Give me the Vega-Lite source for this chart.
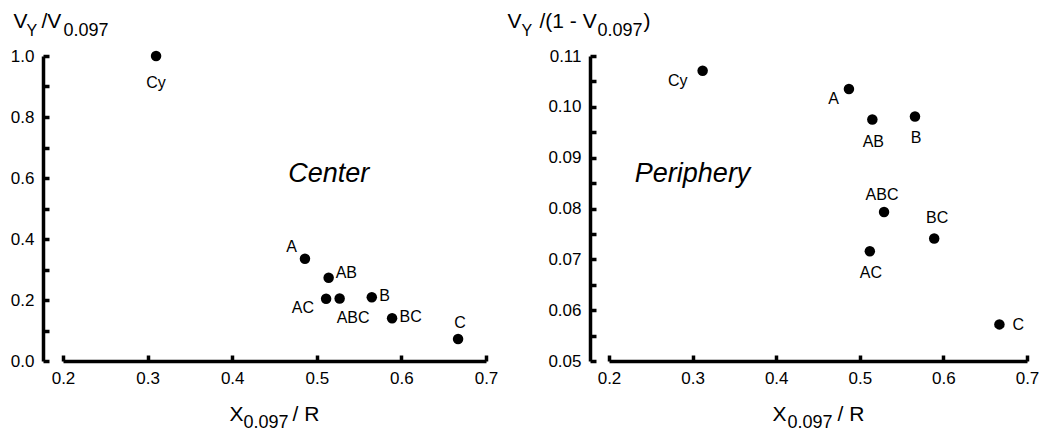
{
  "$schema": "https://vega.github.io/schema/vega-lite/v6.json",
  "padding": {"left": 10, "top": 10, "right": 5, "bottom": 0},
  "bounds": "flush",
  "spacing": 123,
  "datasets": {
    "center": [
      {"label": "Cy", "x": 0.310, "y": 1.000},
      {"label": "A", "x": 0.486, "y": 0.335},
      {"label": "AB", "x": 0.514, "y": 0.273},
      {"label": "AC", "x": 0.511, "y": 0.204},
      {"label": "ABC", "x": 0.527, "y": 0.205},
      {"label": "B", "x": 0.565, "y": 0.209},
      {"label": "BC", "x": 0.589, "y": 0.140},
      {"label": "C", "x": 0.667, "y": 0.072}
    ],
    "periphery": [
      {"label": "Cy", "x": 0.312, "y": 0.1071},
      {"label": "A", "x": 0.487, "y": 0.1035},
      {"label": "AB", "x": 0.515, "y": 0.0975},
      {"label": "B", "x": 0.566, "y": 0.0981},
      {"label": "ABC", "x": 0.529, "y": 0.0793},
      {"label": "BC", "x": 0.589, "y": 0.0741},
      {"label": "AC", "x": 0.512, "y": 0.0716},
      {"label": "C", "x": 0.667, "y": 0.0572}
    ],
    "notes": [
      {"panel": "center", "x": 0.514, "y": 0.587, "text": "Center"},
      {"panel": "periphery", "x": 0.300, "y": 0.0853, "text": "Periphery"}
    ]
  },
  "config": {
    "font": "Liberation Sans",
    "view": {"stroke": null},
    "axis": {"grid": false, "domainColor": "black", "domainWidth": 3.5, "tickColor": "black", "tickWidth": 3.5, "labelColor": "black", "titleColor": "black", "labelFontSize": 17, "titleFontWeight": "normal", "labelFlush": false, "labelOverlap": false, "labelFont": "Liberation Sans", "titleFont": "Liberation Sans"},
    "text": {"fontSize": 16, "color": "black", "font": "Liberation Sans"}
  },
  "hconcat": [
    {
      "width": 423,
      "height": 305,
      "data": {"name": "center"},
      "resolve": {"axis": {"x": "independent", "y": "independent"}},
      "layer": [
        {
          "mark": {"type": "point", "filled": true, "size": 110, "color": "black", "opacity": 1},
          "encoding": {
            "x": {"field": "x", "type": "quantitative", "scale": {"domain": [0.2, 0.7], "nice": false, "zero": false},
              "axis": {"orient": "bottom", "values": [0.2, 0.3, 0.4, 0.5, 0.6, 0.7], "format": ".1f", "ticks": false, "labelPadding": 9, "domainWidth": 3.5, "title": "X", "titleX": 166, "titleY": 59, "titleFontSize": 21, "titleAngle": 0, "titleAlign": "left", "titleBaseline": "alphabetic"}},
            "y": {"field": "y", "type": "quantitative", "scale": {"domain": [0, 1], "nice": false, "zero": false},
              "axis": {"orient": "left", "offset": 20, "values": [0, 0.2, 0.4, 0.6, 0.8, 1], "format": ".1f", "ticks": false, "labelPadding": 9, "domainWidth": 3.5, "title": "V", "titleX": -30, "titleY": -29, "titleFontSize": 21, "titleAngle": 0, "titleAlign": "left", "titleBaseline": "alphabetic"}}
          }
        },
        {
          "transform": [{"filter": "datum.label == 'Cy'"}],
          "mark": {"type": "text", "align": "center", "baseline": "top", "dy": 19},
          "encoding": {
            "x": {"field": "x", "type": "quantitative",
              "axis": {"orient": "bottom", "offset": -6, "domain": false, "labels": false, "ticks": true, "tickSize": 6, "tickWidth": 3.5, "values": [0.2, 0.3, 0.4, 0.5, 0.6, 0.7], "title": null}},
            "y": {"field": "y", "type": "quantitative",
              "axis": {"orient": "left", "offset": 14, "domain": false, "labels": false, "ticks": true, "tickSize": 6, "tickWidth": 3.5, "values": [0, 0.1, 0.2, 0.3, 0.4, 0.5, 0.6, 0.7, 0.8, 0.9, 1], "title": null}},
            "text": {"field": "label"}
          }
        },
        {
          "transform": [{"filter": "datum.label == 'A'"}],
          "mark": {"type": "text", "align": "right", "baseline": "alphabetic", "dx": -8, "dy": -7},
          "encoding": {
            "x": {"field": "x", "type": "quantitative",
              "axis": {"orient": "bottom", "domain": false, "labels": false, "ticks": false, "title": "0.097", "titleX": 180, "titleY": 66, "titleFontSize": 18, "titleAngle": 0, "titleAlign": "left", "titleBaseline": "alphabetic"}},
            "y": {"field": "y", "type": "quantitative",
              "axis": {"orient": "left", "offset": 20, "domain": false, "labels": false, "ticks": false, "title": "Y", "titleX": -17, "titleY": -21, "titleFontSize": 16, "titleAngle": 0, "titleAlign": "left", "titleBaseline": "alphabetic"}},
            "text": {"field": "label"}
          }
        },
        {
          "transform": [{"filter": "datum.label == 'AB'"}],
          "mark": {"type": "text", "align": "left", "baseline": "alphabetic", "dx": 7, "dy": 0},
          "encoding": {
            "x": {"field": "x", "type": "quantitative",
              "axis": {"orient": "bottom", "domain": false, "labels": false, "ticks": false, "title": "/ R", "titleX": 229, "titleY": 59, "titleFontSize": 21, "titleAngle": 0, "titleAlign": "left", "titleBaseline": "alphabetic"}},
            "y": {"field": "y", "type": "quantitative",
              "axis": {"orient": "left", "offset": 20, "domain": false, "labels": false, "ticks": false, "title": "/V", "titleX": -2, "titleY": -29, "titleFontSize": 21, "titleAngle": 0, "titleAlign": "left", "titleBaseline": "alphabetic"}},
            "text": {"field": "label"}
          }
        },
        {
          "transform": [{"filter": "datum.label == 'B' || datum.label == 'BC'"}],
          "mark": {"type": "text", "align": "left", "baseline": "alphabetic", "dx": 7.5, "dy": 4},
          "encoding": {
            "x": {"field": "x", "type": "quantitative", "axis": null},
            "y": {"field": "y", "type": "quantitative",
              "axis": {"orient": "left", "offset": 20, "domain": false, "labels": false, "ticks": false, "title": "0.097", "titleX": 20, "titleY": -21, "titleFontSize": 18, "titleAngle": 0, "titleAlign": "left", "titleBaseline": "alphabetic"}},
            "text": {"field": "label"}
          }
        },
        {
          "transform": [{"filter": "datum.label == 'AC'"}],
          "mark": {"type": "text", "align": "right", "baseline": "top", "dx": -12, "dy": 1},
          "encoding": {
            "x": {"field": "x", "type": "quantitative", "axis": null},
            "y": {"field": "y", "type": "quantitative", "axis": null},
            "text": {"field": "label"}
          }
        },
        {
          "transform": [{"filter": "datum.label == 'ABC'"}],
          "mark": {"type": "text", "align": "left", "baseline": "top", "dx": -3, "dy": 12},
          "encoding": {
            "x": {"field": "x", "type": "quantitative", "axis": null},
            "y": {"field": "y", "type": "quantitative", "axis": null},
            "text": {"field": "label"}
          }
        },
        {
          "transform": [{"filter": "datum.label == 'C'"}],
          "mark": {"type": "text", "align": "center", "baseline": "alphabetic", "dx": 2, "dy": -11},
          "encoding": {
            "x": {"field": "x", "type": "quantitative", "axis": null},
            "y": {"field": "y", "type": "quantitative", "axis": null},
            "text": {"field": "label"}
          }
        },
        {
          "data": {"name": "notes"},
          "transform": [{"filter": "datum.panel == 'center'"}],
          "mark": {"type": "text", "align": "center", "baseline": "alphabetic", "fontSize": 27, "fontStyle": "italic"},
          "encoding": {
            "x": {"field": "x", "type": "quantitative", "axis": null},
            "y": {"field": "y", "type": "quantitative", "axis": null},
            "text": {"field": "text"}
          }
        }
      ]
    },
    {
      "width": 418,
      "height": 305,
      "data": {"name": "periphery"},
      "resolve": {"axis": {"x": "independent", "y": "independent"}},
      "layer": [
        {
          "mark": {"type": "point", "filled": true, "size": 110, "color": "black", "opacity": 1},
          "encoding": {
            "x": {"field": "x", "type": "quantitative", "scale": {"domain": [0.2, 0.7], "nice": false, "zero": false},
              "axis": {"orient": "bottom", "values": [0.2, 0.3, 0.4, 0.5, 0.6, 0.7], "format": ".1f", "ticks": false, "labelPadding": 9, "domainWidth": 3.5, "title": "X", "titleX": 163, "titleY": 59, "titleFontSize": 21, "titleAngle": 0, "titleAlign": "left", "titleBaseline": "alphabetic"}},
            "y": {"field": "y", "type": "quantitative", "scale": {"domain": [0.05, 0.11], "nice": false, "zero": false},
              "axis": {"orient": "left", "offset": 19, "values": [0.05, 0.06, 0.07, 0.08, 0.09, 0.1, 0.11], "format": ".2f", "ticks": false, "labelPadding": 9, "domainWidth": 3.5, "title": "V", "titleX": -83, "titleY": -29, "titleFontSize": 21, "titleAngle": 0, "titleAlign": "left", "titleBaseline": "alphabetic"}}
          }
        },
        {
          "transform": [{"filter": "datum.label == 'Cy'"}],
          "mark": {"type": "text", "align": "right", "baseline": "top", "dx": -15, "dy": 2},
          "encoding": {
            "x": {"field": "x", "type": "quantitative",
              "axis": {"orient": "bottom", "offset": -6, "domain": false, "labels": false, "ticks": true, "tickSize": 6, "tickWidth": 3.5, "values": [0.2, 0.3, 0.4, 0.5, 0.6, 0.7], "title": null}},
            "y": {"field": "y", "type": "quantitative",
              "axis": {"orient": "left", "offset": 13, "domain": false, "labels": false, "ticks": true, "tickSize": 6, "tickWidth": 3.5, "values": [0.05, 0.055, 0.06, 0.065, 0.07, 0.075, 0.08, 0.085, 0.09, 0.095, 0.1, 0.105, 0.11], "title": null}},
            "text": {"field": "label"}
          }
        },
        {
          "transform": [{"filter": "datum.label == 'A'"}],
          "mark": {"type": "text", "align": "right", "baseline": "top", "dx": -10, "dy": 2},
          "encoding": {
            "x": {"field": "x", "type": "quantitative",
              "axis": {"orient": "bottom", "domain": false, "labels": false, "ticks": false, "title": "0.097", "titleX": 178, "titleY": 66, "titleFontSize": 18, "titleAngle": 0, "titleAlign": "left", "titleBaseline": "alphabetic"}},
            "y": {"field": "y", "type": "quantitative",
              "axis": {"orient": "left", "offset": 19, "domain": false, "labels": false, "ticks": false, "title": "Y", "titleX": -69, "titleY": -21, "titleFontSize": 16, "titleAngle": 0, "titleAlign": "left", "titleBaseline": "alphabetic"}},
            "text": {"field": "label"}
          }
        },
        {
          "transform": [{"filter": "datum.label == 'AB' || datum.label == 'B' || datum.label == 'AC'"}],
          "mark": {"type": "text", "align": "center", "baseline": "top", "dx": 1, "dy": 14},
          "encoding": {
            "x": {"field": "x", "type": "quantitative",
              "axis": {"orient": "bottom", "domain": false, "labels": false, "ticks": false, "title": "/ R", "titleX": 228, "titleY": 59, "titleFontSize": 21, "titleAngle": 0, "titleAlign": "left", "titleBaseline": "alphabetic"}},
            "y": {"field": "y", "type": "quantitative",
              "axis": {"orient": "left", "offset": 19, "domain": false, "labels": false, "ticks": false, "title": "/(1 - V", "titleX": -51, "titleY": -29, "titleFontSize": 21, "titleAngle": 0, "titleAlign": "left", "titleBaseline": "alphabetic"}},
            "text": {"field": "label"}
          }
        },
        {
          "transform": [{"filter": "datum.label == 'ABC'"}],
          "mark": {"type": "text", "align": "center", "baseline": "alphabetic", "dx": -2, "dy": -12},
          "encoding": {
            "x": {"field": "x", "type": "quantitative", "axis": null},
            "y": {"field": "y", "type": "quantitative",
              "axis": {"orient": "left", "offset": 19, "domain": false, "labels": false, "ticks": false, "title": "0.097", "titleX": 7, "titleY": -21, "titleFontSize": 18, "titleAngle": 0, "titleAlign": "left", "titleBaseline": "alphabetic"}},
            "text": {"field": "label"}
          }
        },
        {
          "transform": [{"filter": "datum.label == 'BC'"}],
          "mark": {"type": "text", "align": "center", "baseline": "alphabetic", "dx": 3, "dy": -15},
          "encoding": {
            "x": {"field": "x", "type": "quantitative", "axis": null},
            "y": {"field": "y", "type": "quantitative",
              "axis": {"orient": "left", "offset": 19, "domain": false, "labels": false, "ticks": false, "title": ")", "titleX": 53, "titleY": -29, "titleFontSize": 21, "titleAngle": 0, "titleAlign": "left", "titleBaseline": "alphabetic"}},
            "text": {"field": "label"}
          }
        },
        {
          "transform": [{"filter": "datum.label == 'C'"}],
          "mark": {"type": "text", "align": "left", "baseline": "middle", "dx": 13, "dy": 1},
          "encoding": {
            "x": {"field": "x", "type": "quantitative", "axis": null},
            "y": {"field": "y", "type": "quantitative", "axis": null},
            "text": {"field": "label"}
          }
        },
        {
          "data": {"name": "notes"},
          "transform": [{"filter": "datum.panel == 'periphery'"}],
          "mark": {"type": "text", "align": "center", "baseline": "alphabetic", "fontSize": 27, "fontStyle": "italic"},
          "encoding": {
            "x": {"field": "x", "type": "quantitative", "axis": null},
            "y": {"field": "y", "type": "quantitative", "axis": null},
            "text": {"field": "text"}
          }
        }
      ]
    }
  ]
}
